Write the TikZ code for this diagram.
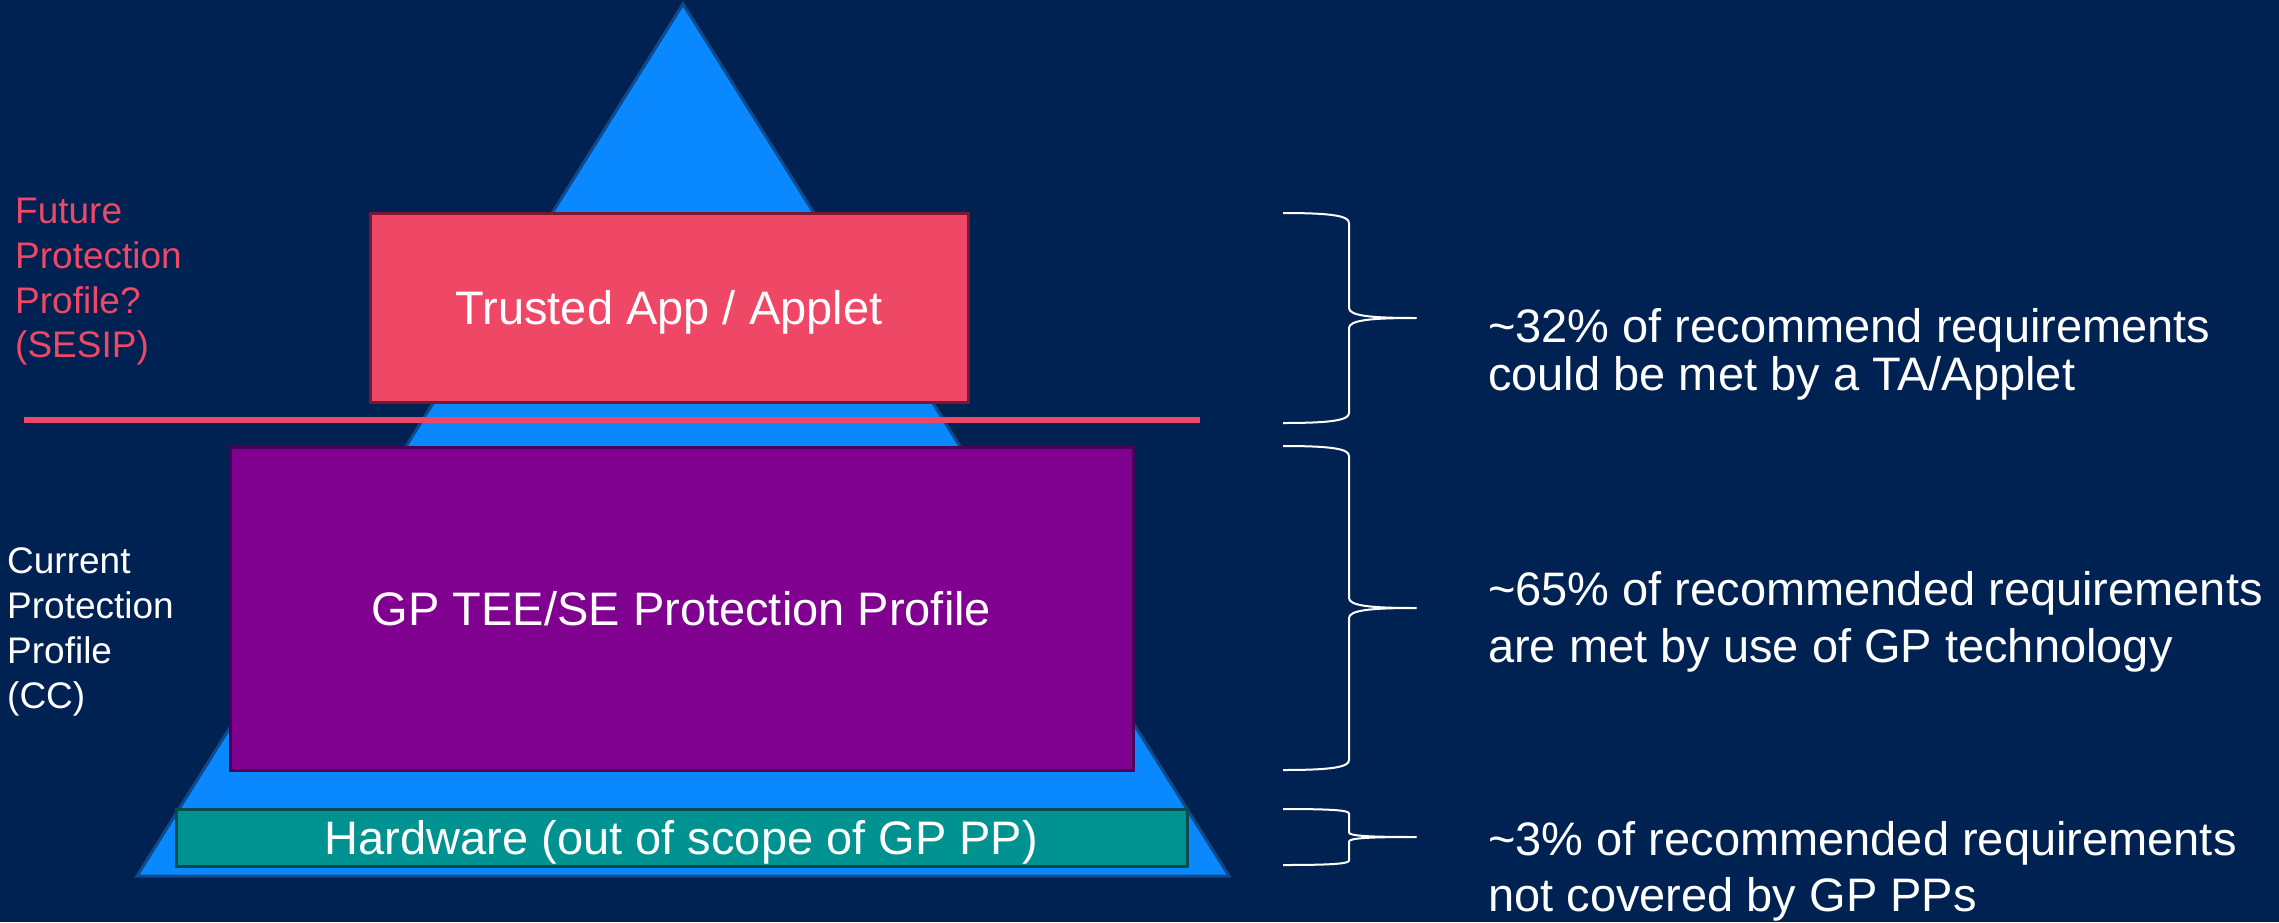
\documentclass[tikz,border=0pt]{standalone}
\usepackage{fontspec}
\setmainfont{Liberation Sans}
\definecolor{bgnavy}{HTML}{002252}
\definecolor{triblue}{HTML}{0A88FF}
\definecolor{triedge}{HTML}{0E4A8C}
\definecolor{gppink}{HTML}{EF4766}
\definecolor{gppinkedge}{HTML}{7A1832}
\definecolor{gppurple}{HTML}{800090}
\definecolor{gppurpleedge}{HTML}{4A0058}
\definecolor{gpteal}{HTML}{009191}
\definecolor{gptealedge}{HTML}{0B4A4F}
\newcommand{\boxfont}{\fontsize{47}{56}\selectfont}
\newcommand{\sidefont}{\fontsize{37}{45}\selectfont}
\newcommand{\notefont}{\fontsize{47}{56}\selectfont}
% curly brace from y=#1 to y=#2 with corner size #3, tip halfway
\newcommand{\gpbrace}[3]{%
  \draw[bracestyle] (1283,#1) .. controls (1333,#1) and (1349,{#1+0.3*#3}) .. (1349,{#1+#3})
    -- (1349,{(#1+#2)/2-#3}) .. controls (1349,{(#1+#2)/2-0.2*#3}) and (1372,{(#1+#2)/2}) .. (1416,{(#1+#2)/2})
    .. controls (1372,{(#1+#2)/2}) and (1349,{(#1+#2)/2+0.2*#3}) .. (1349,{(#1+#2)/2+#3})
    -- (1349,{#2-#3}) .. controls (1349,{#2-0.3*#3}) and (1333,#2) .. (1283,#2);}
\begin{document}
\begin{tikzpicture}[x=1pt,y=-1pt,
  layerbox/.style={rectangle, line width=3pt, inner sep=0pt, text=white,
    font=\boxfont, text height=34pt, text depth=0pt},
  sidetext/.style={anchor=base west, inner sep=0pt, font=\sidefont},
  notetext/.style={anchor=base west, inner sep=0pt, font=\notefont, text=white},
  bracestyle/.style={draw=white, line width=2pt, line join=round}]
\fill[bgnavy] (0,0) rectangle (2279,922);
\useasboundingbox (0,0) rectangle (2279,922);

% the pyramid
\coordinate (apex) at (683,4);
\coordinate (baseL) at (137,876);
\coordinate (baseR) at (1229,876);
\draw[fill=triblue, draw=triedge, line width=3pt, line join=miter] (apex) -- (baseL) -- (baseR) -- cycle;

% layers
\node[layerbox, fill=gppink, draw=gppinkedge, minimum width=598pt, minimum height=189pt]
  (ta) at (669,307.5) {Trusted App / Applet};
\node[layerbox, fill=gppurple, draw=gppurpleedge, minimum width=903pt, minimum height=323pt]
  (tee) at (681.5,608.5) {GP TEE/SE Protection Profile};
\node[layerbox, fill=gpteal, draw=gptealedge, minimum width=1011pt, minimum height=57pt]
  (hw) at (681.5,837.5) {Hardware (out of scope of GP PP)};

% divider between future and current profile
\coordinate (divL) at (24,420);
\coordinate (divR) at (1200,420);
\draw[gppink, line width=6pt] (divL) -- (divR);

% side labels
\node[sidetext, text=gppink] (fut1) at (15,223) {Future};
\node[sidetext, text=gppink] (fut2) at (15,268) {Protection};
\node[sidetext, text=gppink] (fut3) at (15,313) {Profile?};
\node[sidetext, text=gppink] (fut4) at (15,357) {(SESIP)};
\node[sidetext, text=white] (cur1) at (7,573) {Current};
\node[sidetext, text=white] (cur2) at (7,618) {Protection};
\node[sidetext, text=white] (cur3) at (7,663) {Profile};
\node[sidetext, text=white] (cur4) at (7,708) {(CC)};

% braces
\gpbrace{213}{423}{10}
\gpbrace{446}{770}{10}
\gpbrace{809}{865}{4.5}

% notes
\node[notetext] (n1a) at (1488,342) {\textasciitilde 32\% of recommend requirements};
\node[notetext] (n1b) at (1488,390) {could be met by a TA/Applet};
\node[notetext] (n2a) at (1488,605) {\textasciitilde 65\% of recommended requirements};
\node[notetext] (n2b) at (1488,662) {are met by use of GP technology};
\node[notetext] (n3a) at (1488,855) {\textasciitilde 3\% of recommended requirements};
\node[notetext] (n3b) at (1488,911) {not covered by GP PPs};
\end{tikzpicture}
\end{document}
